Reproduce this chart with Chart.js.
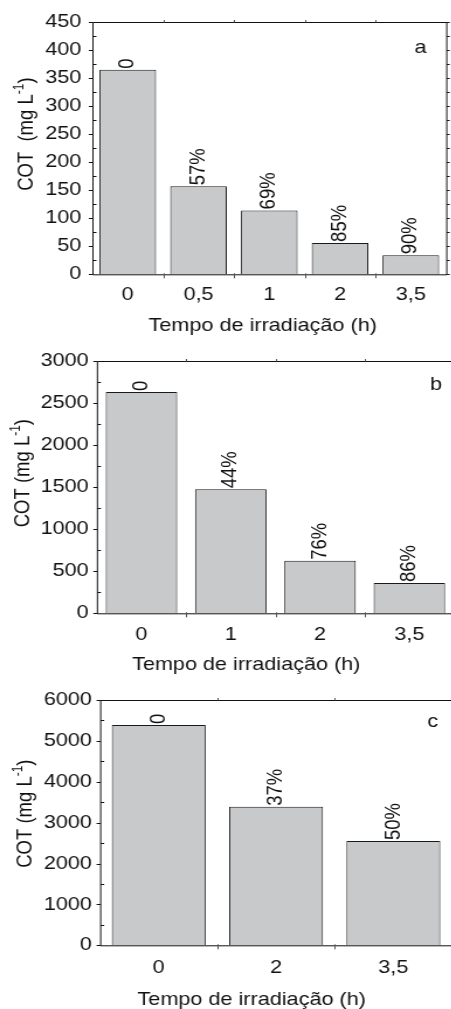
<!DOCTYPE html>
<html>
<head>
<meta charset="utf-8">
<script src="https://cdn.jsdelivr.net/npm/chart.js@4/dist/chart.umd.min.js"></script>
<style>
html,body{margin:0;padding:0;background:#fff;overflow:hidden;width:451px;height:1009px;position:relative;}
.wrap{position:absolute;left:0;}
canvas{display:block;}
</style>
</head>
<body>
<div class="wrap" style="top:0px"><canvas id="chartA" width="390" height="340" style="width:455.5px;height:340px"></canvas></div>
<div class="wrap" style="top:340px"><canvas id="chartB" width="390" height="340" style="width:455.5px;height:340px"></canvas></div>
<div class="wrap" style="top:680px"><canvas id="chartC" width="390" height="329" style="width:455.5px;height:329px"></canvas></div>
<script>
// ---- data ----
const categoriesA = ['0', '0,5', '1', '2', '3,5'];
const valuesA = [365, 157, 114, 56, 34];
const barLabelsA = ['0', '57%', '69%', '85%', '90%'];
const yTicksA = {max: 450, step: 50, minor: 25};

const categoriesB = ['0', '1', '2', '3,5'];
const valuesB = [2630, 1475, 625, 360];
const barLabelsB = ['0', '44%', '76%', '86%'];
const yTicksB = {max: 3000, step: 500, minor: 250};

const categoriesC = ['0', '2', '3,5'];
const valuesC = [5390, 3390, 2550];
const barLabelsC = ['0', '37%', '50%'];
const yTicksC = {max: 6000, step: 1000, minor: 500};

const panelNames = ['a', 'b', 'c'];
const xTitleText = 'Tempo de irradiação (h)';
const yTitleMainA = 'COT  (mg L';
const yTitleMain = 'COT (mg L';
const yTitleSup = '-1';
const yTitleEnd = ')';

// ---- style ----
const FONT = '"Liberation Sans", Arial, Helvetica, sans-serif';
const INK = '#111';
const FS = 18.5;
Chart.defaults.font.family = FONT;
Chart.defaults.font.size = FS;
Chart.defaults.color = INK;

const decor = {
  id: 'decor',
  afterDraw(chart, args, o) {
    const ctx = chart.ctx, a = chart.chartArea;
    const ys = chart.scales.y, xs = chart.scales.x;
    ctx.save();
    // frame
    ctx.strokeStyle = INK;
    ctx.lineWidth = 1;
    ctx.beginPath();
    ctx.rect(a.left + 0.5, a.top + 0.5, a.right - a.left, a.bottom - a.top);
    ctx.stroke();
    // y ticks (major outward, minor inward, right side outward)
    const nMinor = Math.round(o.max / o.minor);
    for (let k = 0; k <= nMinor; k++) {
      const v = k * o.minor;
      const y = Math.round(ys.getPixelForValue(v)) + 0.5;
      const major = Math.abs(v / o.step - Math.round(v / o.step)) < 1e-6;
      ctx.beginPath();
      if (major) { ctx.moveTo(a.left - 3, y); ctx.lineTo(a.left + 0.5, y); }
      else { ctx.moveTo(a.left + 0.5, y); ctx.lineTo(a.left + 3.5, y); }
      ctx.moveTo(a.right + 0.5, y); ctx.lineTo(a.right + 3, y);
      ctx.stroke();
    }
    // x ticks at category boundaries
    const n = chart.data.labels.length;
    ctx.strokeStyle = '#555';
    for (let i = 1; i < n; i++) {
      const x = Math.round((xs.getPixelForValue(i - 1) + xs.getPixelForValue(i)) / 2) + 0.5;
      ctx.beginPath();
      ctx.moveTo(x, a.bottom - 1); ctx.lineTo(x, a.bottom + 4);
      ctx.moveTo(x, a.top + 0.5); ctx.lineTo(x, a.top - 2);
      ctx.stroke();
    }
    // bar value labels (rotated)
    ctx.fillStyle = INK;
    ctx.font = FS + 'px ' + FONT;
    const meta = chart.getDatasetMeta(0);
    meta.data.forEach((el, i) => {
      ctx.save();
      ctx.translate(el.x, el.y - 1);
      ctx.rotate(-Math.PI / 2);
      ctx.textAlign = 'left';
      ctx.textBaseline = 'middle';
      ctx.fillText(o.barLabels[i], 0, 0);
      ctx.restore();
    });
    // panel letter
    ctx.textAlign = 'center';
    ctx.textBaseline = 'alphabetic';
    ctx.fillText(o.panel, o.panelX, o.panelY);
    // x title
    ctx.fillText(xTitleText, o.xTitleX, o.xTitleY);
    // y title with superscript
    ctx.save();
    ctx.translate(o.yTitleX, (a.top + a.bottom) / 2 + o.yTitleShift);
    ctx.rotate(-Math.PI / 2);
    ctx.textAlign = 'left';
    const mainFont = FS + 'px ' + FONT, supFont = '12px ' + FONT;
    ctx.font = mainFont; const w1 = ctx.measureText(o.yMain).width; const w3 = ctx.measureText(yTitleEnd).width;
    ctx.font = supFont; const w2 = ctx.measureText(yTitleSup).width;
    let x = -(w1 + w2 + w3) / 2;
    ctx.font = mainFont; ctx.fillText(o.yMain, x, 0); x += w1;
    ctx.font = supFont; ctx.fillText(yTitleSup, x, -8); x += w2;
    ctx.font = mainFont; ctx.fillText(yTitleEnd, x, 0);
    ctx.restore();
    ctx.restore();
  }
};

function makeChart(id, categories, values, barLabels, yt, L) {
  return new Chart(document.getElementById(id), {
    type: 'bar',
    data: {
      labels: categories,
      datasets: [{
        data: values,
        backgroundColor: '#c8c9cb',
        borderColor: '#1a1a1a',
        borderWidth: 1,
        barPercentage: 0.8,
        categoryPercentage: 1.0
      }]
    },
    options: {
      responsive: false,
      animation: false,
      devicePixelRatio: 1,
      events: [],
      layout: {padding: {top: L.top, right: L.right, bottom: 0, left: 0}},
      scales: {
        x: {
          offset: true,
          grid: {display: false, drawTicks: false},
          border: {display: false},
          ticks: {padding: L.xPad, color: INK, maxRotation: 0, autoSkip: false},
          afterFit(s) { s.height = L.xH; }
        },
        y: {
          min: 0, max: yt.max,
          grid: {display: false, drawTicks: false},
          border: {display: false},
          ticks: {stepSize: yt.step, padding: L.yPad, color: INK, callback: v => String(v)},
          afterFit(s) { s.width = L.left; }
        }
      },
      plugins: {
        legend: {display: false},
        tooltip: {enabled: false},
        decor: Object.assign({barLabels: barLabels}, yt, L.deco)
      }
    },
    plugins: [decor]
  });
}

makeChart('chartA', categoriesA, valuesA, barLabelsA, yTicksA, {
  top: 22, right: 8.4, left: 79.0, xH: 65.7, xPad: 10, yPad: 9.5,
  deco: {panel: panelNames[0], panelX: 359.6, panelY: 53, xTitleX: 224.7, xTitleY: 331, yTitleX: 28.3, yTitleShift: -14, yMain: yTitleMainA}
});
makeChart('chartB', categoriesB, valuesB, barLabelsB, yTicksB, {
  top: 21, right: 1.7, left: 82.8, xH: 66.7, xPad: 11, yPad: 7,
  deco: {panel: panelNames[1], panelX: 373, panelY: 50, xTitleX: 210.6, xTitleY: 330, yTitleX: 24.8, yTitleShift: -14, yMain: yTitleMain}
});
makeChart('chartC', categoriesC, valuesC, barLabelsC, yTicksC, {
  top: 20, right: 3.4, left: 85.6, xH: 63.7, xPad: 12, yPad: 7,
  deco: {panel: panelNames[2], panelX: 370, panelY: 47, xTitleX: 215.3, xTitleY: 325, yTitleX: 26.5, yTitleShift: -9, yMain: yTitleMain}
});
</script>
</body>
</html>
